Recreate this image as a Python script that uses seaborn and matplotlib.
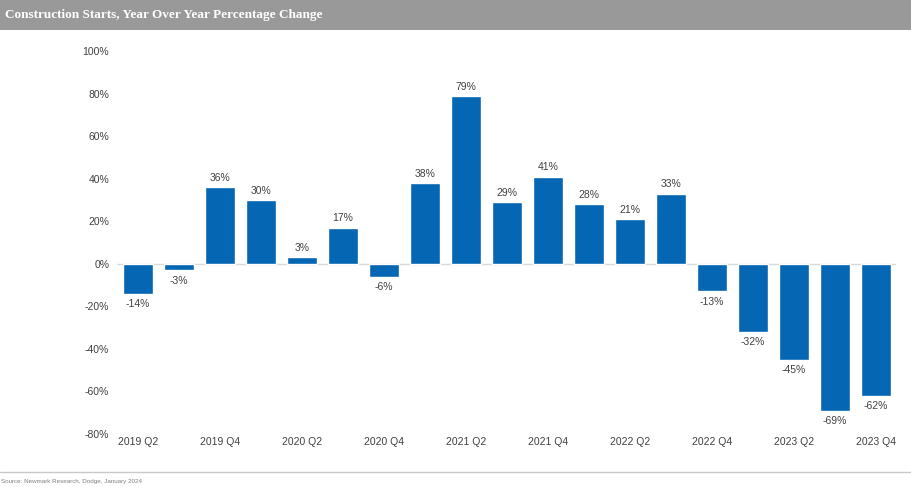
import matplotlib
matplotlib.use("Agg")
import matplotlib.pyplot as plt
import seaborn as sns
import pandas as pd
from matplotlib.patches import Rectangle
from matplotlib.lines import Line2D

quarters = ["2019 Q2", "2019 Q3", "2019 Q4", "2020 Q1", "2020 Q2", "2020 Q3", "2020 Q4",
            "2021 Q1", "2021 Q2", "2021 Q3", "2021 Q4", "2022 Q1", "2022 Q2", "2022 Q3",
            "2022 Q4", "2023 Q1", "2023 Q2", "2023 Q3", "2023 Q4"]
yoy_change = [-14, -3, 36, 30, 3, 17, -6, 38, 79, 29, 41, 28, 21, 33, -13, -32, -45, -69, -62]
y_ticks = [-80, -60, -40, -20, 0, 20, 40, 60, 80, 100]

title = "Construction Starts, Year Over Year Percentage Change"
source = "Source: Newmark Research, Dodge, January 2024"

BAR_BLUE = "#0566b3"
TEXT_GRAY = "#404040"

sns.set_theme(style="white")
plt.rcParams["font.family"] = ["Liberation Sans", "DejaVu Sans"]

df = pd.DataFrame({"quarter": quarters, "change": yoy_change})

fig = plt.figure(figsize=(9.11, 4.87), dpi=100)
ax = fig.add_axes([117.5 / 911, 1 - 434 / 487, (896.5 - 117.5) / 911, (434 - 51) / 487])

sns.barplot(data=df, x="quarter", y="change", color=BAR_BLUE, saturation=1,
            width=0.71, ax=ax)

ax.set_xlim(-0.5, len(quarters) - 0.5)
ax.set_ylim(-80, 100)
ax.set_yticks(y_ticks)
ax.set_yticklabels([f"{t}%" for t in y_ticks], fontsize=7.5, color=TEXT_GRAY)
ax.set_xticks(range(0, len(quarters), 2))
ax.set_xticklabels(quarters[::2], fontsize=7.5, color=TEXT_GRAY)
ax.tick_params(axis="both", length=0, pad=2)
ax.tick_params(axis="y", pad=6)
ax.set_xlabel("")
ax.set_ylabel("")
for s in ax.spines.values():
    s.set_visible(False)
ax.axhline(0, color="#d9d9d9", lw=1, zorder=0)

# value labels above positive bars, below negative bars
for i, v in enumerate(yoy_change):
    if v >= 0:
        ax.annotate(f"{v}%", (i, v), xytext=(0, 3), textcoords="offset points",
                    ha="center", va="bottom", fontsize=7.5, color=TEXT_GRAY)
    else:
        ax.annotate(f"{v}%", (i, v), xytext=(0, -4), textcoords="offset points",
                    ha="center", va="top", fontsize=7.5, color=TEXT_GRAY)

# title band
fig.patches.append(Rectangle((0, 1 - 30 / 487), 1, 30 / 487, transform=fig.transFigure,
                             facecolor="#999999", edgecolor="none", zorder=0))
fig.text(5 / 911, 1 - 15 / 487, title, color="white", fontsize=9.5, fontweight="bold",
         family=["Liberation Serif", "DejaVu Serif"], va="center", ha="left")

# footer rule and source note
fig.lines.append(Line2D([0, 1], [1 - 472 / 487] * 2, transform=fig.transFigure,
                        color="#c8c8c8", lw=1))
fig.text(1 / 911, 1 - 481 / 487, source, fontsize=4.5, color="#808080", va="center", ha="left")

fig.savefig("out.png", dpi=100)
